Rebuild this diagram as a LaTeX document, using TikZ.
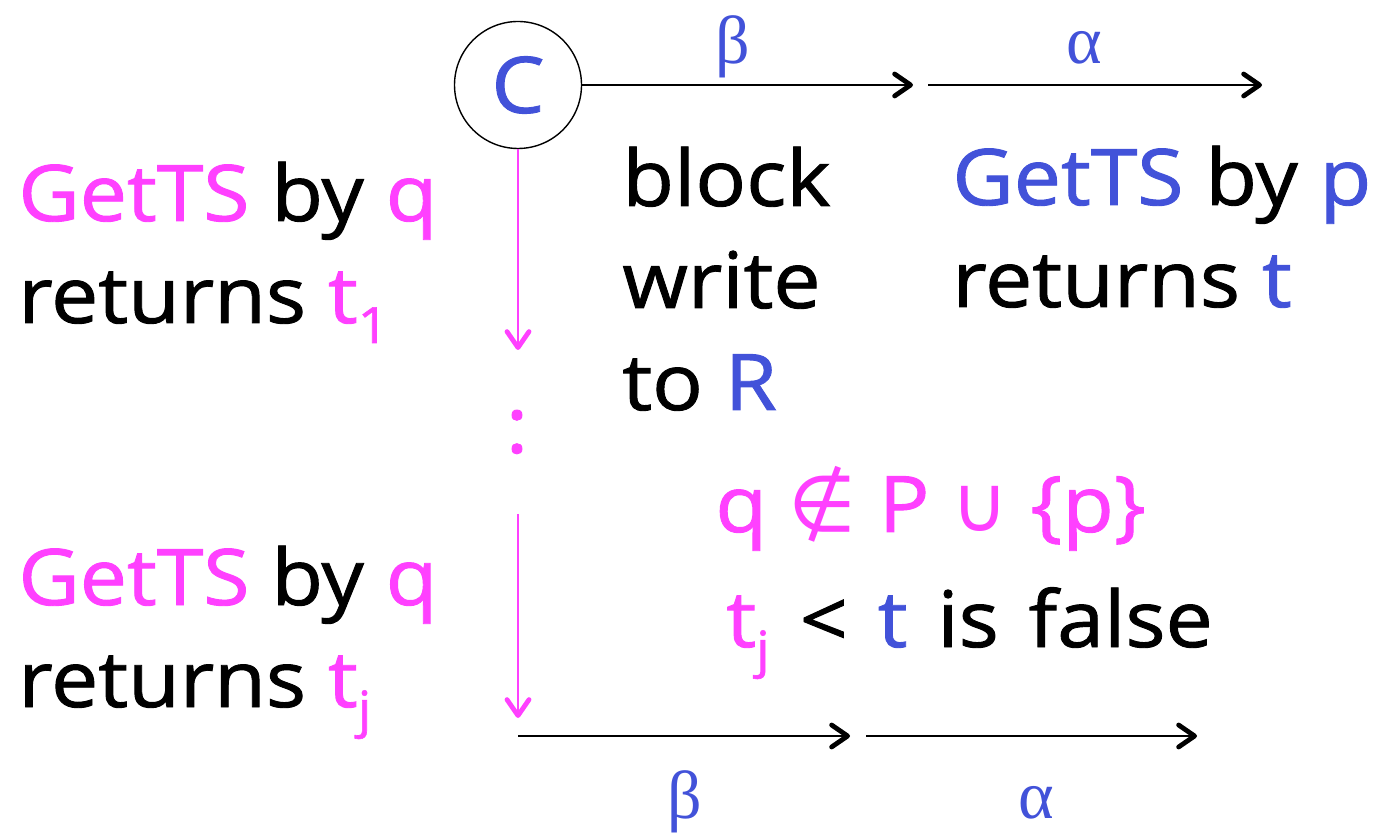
\documentclass[tikz,border=0pt]{standalone}
\usepackage{fontspec}
\setmainfont{Open Sans}[FakeStretch=1.08, FakeBold=1.2]
\newfontfamily\greekfont{Liberation Serif}
\newfontfamily\symfont{DejaVu Sans}
\usepackage{xcolor}
\usetikzlibrary{arrows.meta}

\definecolor{procq}{RGB}{255,64,255}
\definecolor{procp}{RGB}{66,82,217}
\newcommand{\lowsub}[1]{\raisebox{-10pt}{\fontsize{25}{25}\selectfont #1}}
\newcommand{\wsp}{\ \hspace{4pt}}

\begin{document}
\begin{tikzpicture}[
    x=0.5pt, y=-0.5pt,
    every node/.style={font=\fontsize{39}{51}\selectfont, inner sep=0pt},
    lbl/.style={anchor=base west, align=left},
    greek/.style={font=\fontsize{34}{34}\greekfont, text=procp, anchor=base},
    flow/.style={-{Straight Barb[length=8pt, width=11pt, line width=0pt 2.4, round]}, line width=1pt, black},
    qflow/.style={-{Straight Barb[length=8pt, width=11pt, line width=0pt 2.4, round]}, line width=1pt, procq},
    proc/.style={circle, draw, line width=0.7pt, minimum size=63.5pt, text=procp},
]
\useasboundingbox (0,0) rectangle (1385,838);

% === Process C and the two time lines ===
\node[proc] (c) at (518,85) {C};

\coordinate (tb_end) at (913,85);
\coordinate (ta_start) at (928,85);
\coordinate (ta_end) at (1262,85);
\draw[flow] (c) -- (tb_end);
\draw[flow] (ta_start) -- (ta_end);
\node[greek] (tbeta) at (733,64) {β};
\node[greek] (talpha) at (1084,64) {α};

\coordinate (bb_start) at (518,736);
\coordinate (bb_end) at (850,736);
\coordinate (ba_start) at (866,736);
\coordinate (ba_end) at (1197,736);
\draw[flow] (bb_start) -- (bb_end);
\draw[flow] (ba_start) -- (ba_end);
\node[greek] (bbeta) at (685,818) {β};
\node[greek] (balpha) at (1036,818) {α};

% === Steps of q (magenta) ===
\coordinate (q_first) at (518,350);
\draw[qflow] (c) -- (q_first);
\node[text=procq] (qdots) at (517,432) {:};
\coordinate (q_next) at (518,514);
\coordinate (q_last) at (518,718);
\draw[qflow] (q_next) -- (q_last);

% === Labels (base = last line) ===
\node[lbl] (getq1) at (18,323)
    {\textcolor{procq}{GetTS} by \textcolor{procq}{q}\\returns \textcolor{procq}{t\lowsub{1}}};
\node[lbl] (getq2) at (18,707)
    {\textcolor{procq}{GetTS} by \textcolor{procq}{q}\\returns \textcolor{procq}{t\lowsub{j}}};
\node[lbl] (blockw) at (622,410) {block\\write\\to \textcolor{procp}{R}};
\node[lbl] (getp) at (952,307)
    {\textcolor{procp}{GetTS} by \textcolor{procp}{p}\\returns \textcolor{procp}{t}};
\node[lbl, text=procq] (cond) at (715,532) {q {\symfont ∉} P {\symfont ∪} \{p\}};
\node[lbl] (cmp) at (726,647)
    {\textcolor{procq}{t\lowsub{j}}\wsp<\wsp\textcolor{procp}{t}\wsp is\wsp false};

\end{tikzpicture}
\end{document}
